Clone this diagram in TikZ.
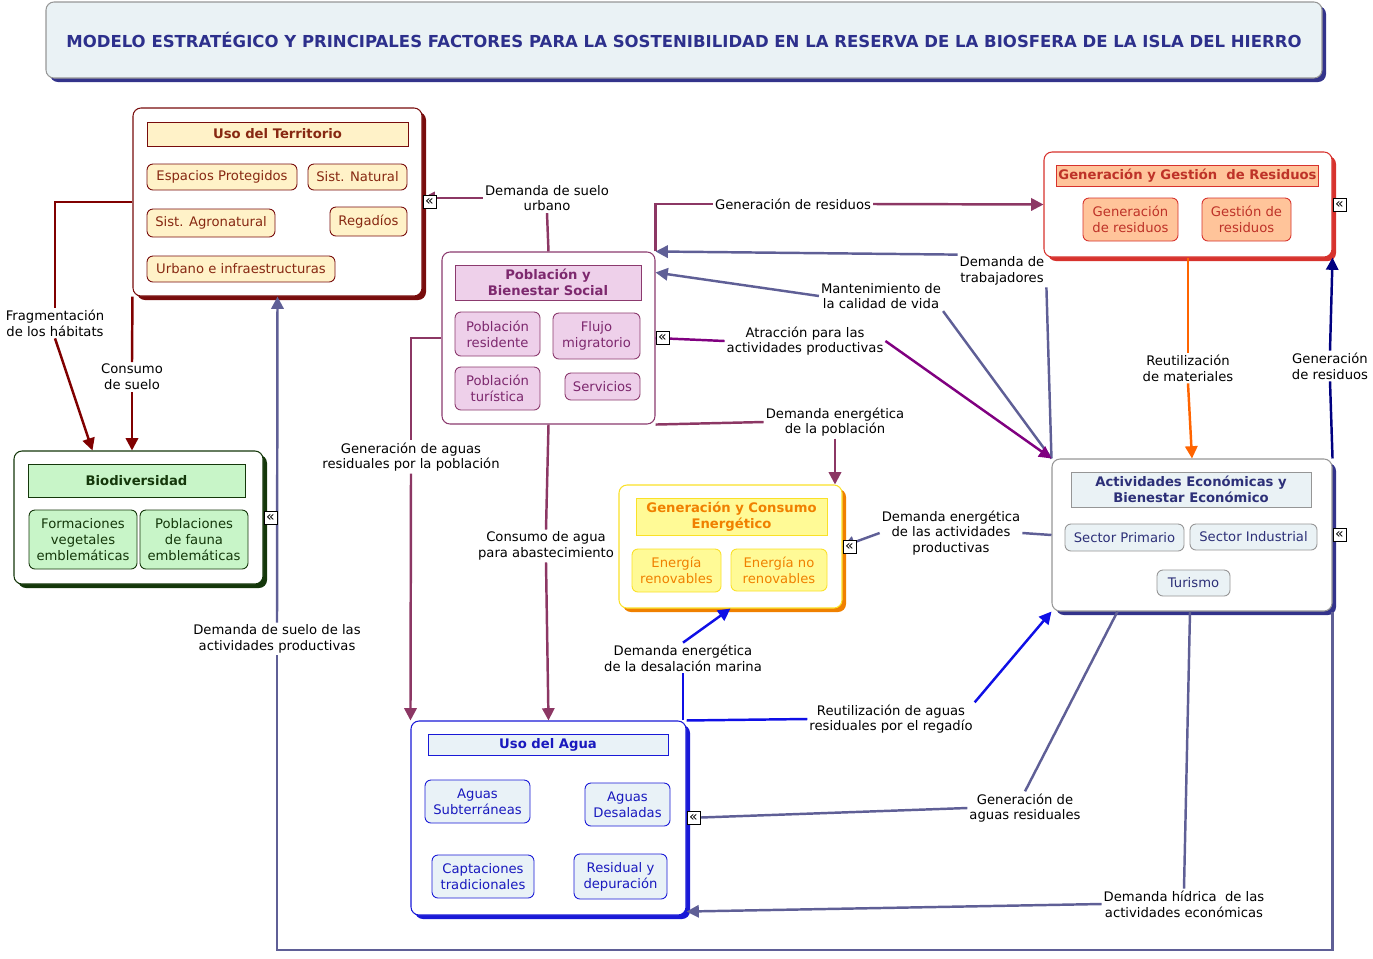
\documentclass[tikz,border=0pt]{standalone}
\usepackage{fontspec}
\setmainfont{DejaVu Sans}
\usetikzlibrary{arrows.meta, positioning, shadows}

\definecolor{azulTit}{RGB}{45,48,140}
\definecolor{fondoGris}{RGB}{234,242,245}
\definecolor{marino}{RGB}{51,51,139}
\definecolor{rojoTerr}{RGB}{120,12,12}
\definecolor{textoTerr}{RGB}{135,40,18}
\definecolor{fondoTerr}{RGB}{255,242,200}
\definecolor{lilaPob}{RGB}{139,58,110}
\definecolor{fondoPob}{RGB}{238,208,234}
\definecolor{textoPob}{RGB}{125,40,110}
\definecolor{rojoRes}{RGB}{215,50,45}
\definecolor{fondoRes}{RGB}{255,196,154}
\definecolor{textoRes}{RGB}{190,50,40}
\definecolor{verdeBio}{RGB}{20,55,10}
\definecolor{fondoBio}{RGB}{200,245,200}
\definecolor{amarilloEne}{RGB}{250,225,40}
\definecolor{fondoEne}{RGB}{255,250,150}
\definecolor{naranjaEne}{RGB}{240,128,0}
\definecolor{grisAct}{RGB}{150,150,150}
\definecolor{textoAct}{RGB}{45,48,120}
\definecolor{azulAgua}{RGB}{25,25,215}
\definecolor{fondoAgua}{RGB}{233,242,247}
\definecolor{textoAgua}{RGB}{25,25,190}
\definecolor{cPobCol}{RGB}{140,55,100}
\definecolor{cPizarra}{RGB}{95,95,150}
\definecolor{cMorado}{RGB}{128,0,128}
\definecolor{cAzul}{RGB}{15,15,230}
\definecolor{cMarino}{RGB}{0,0,128}
\definecolor{cNaranja}{RGB}{255,100,0}
\definecolor{cRojo}{RGB}{128,0,0}

\begin{document}
\begin{tikzpicture}[x=0.02cm, y=-0.02cm, >={Triangle[length=7pt,width=7pt]},
    tam/.style 2 args={minimum width=#1*0.02cm, minimum height=#2*0.02cm},
    sombra/.style={drop shadow={shadow xshift=0.08cm, shadow yshift=-0.08cm, fill=#1, opacity=1}},
    marco/.style={draw, rounded corners=0.16cm, fill=white, line width=0.6pt, inner sep=0pt},
    cabecera/.style={draw, line width=0.5pt, font=\fontsize{7.5}{9}\selectfont\bfseries, align=center, inner sep=1pt},
    concepto/.style={draw, rounded corners=0.12cm, line width=0.5pt, font=\fontsize{7.5}{9}\selectfont, align=center, inner sep=1pt},
    etiqueta/.style={font=\fontsize{7.5}{9}\selectfont, align=center, inner sep=1pt},
    enlace/.style={line width=1.4pt, draw=#1},
    icono/.style={draw, fill=white, inner sep=0pt, line width=0.5pt, font=\fontsize{8}{8}\selectfont, minimum size=0.26cm, anchor=west}]
\useasboundingbox (0,0) rectangle (1373,958);

% titulo
\node[marco, draw=grisAct, fill=fondoGris, sombra=marino, tam={1276}{76}, text=azulTit, font=\fontsize{9.4}{11}\selectfont\bfseries] (titulo) at (684,40) {MODELO ESTRATÉGICO Y PRINCIPALES FACTORES PARA LA SOSTENIBILIDAD EN LA RESERVA DE LA BIOSFERA DE LA ISLA DEL HIERRO};

% uso del territorio
\node[marco, draw=rojoTerr, sombra=rojoTerr, tam={289}{188}] (terr) at (277.5,202) {};
\node[cabecera, draw=rojoTerr, fill=fondoTerr, text=textoTerr, tam={261}{24}] (terrCab) at (277.5,134) {Uso del Territorio};
\node[concepto, draw=rojoTerr, fill=fondoTerr, text=textoTerr, tam={150}{26}] (espacios) at (222,177) {Espacios Protegidos};
\node[concepto, draw=rojoTerr, fill=fondoTerr, text=textoTerr, tam={99}{26}] (natural) at (357.5,177) {Sist. Natural};
\node[concepto, draw=rojoTerr, fill=fondoTerr, text=textoTerr, tam={128}{28}] (agronat) at (211,223) {Sist. Agronatural};
\node[concepto, draw=rojoTerr, fill=fondoTerr, text=textoTerr, tam={77}{29}] (regadios) at (368.5,221.5) {Regadíos};
\node[concepto, draw=rojoTerr, fill=fondoTerr, text=textoTerr, tam={188}{26}] (urbano) at (241,269) {Urbano e infraestructuras};

% poblacion
\node[marco, draw=lilaPob, tam={213}{172}] (pob) at (548.5,338) {};
\node[cabecera, draw=lilaPob, fill=fondoPob, text=textoPob, tam={186}{35}] (pobCab) at (548,282.5) {Población y\\Bienestar Social};
\node[concepto, draw=lilaPob, fill=fondoPob, text=textoPob, tam={85}{44}] (residente) at (497.5,334) {Población\\residente};
\node[concepto, draw=lilaPob, fill=fondoPob, text=textoPob, tam={87}{46}] (flujo) at (596.5,336) {Flujo\\migratorio};
\node[concepto, draw=lilaPob, fill=fondoPob, text=textoPob, tam={85}{43}] (turistica) at (497.5,388.5) {Población\\turística};
\node[concepto, draw=lilaPob, fill=fondoPob, text=textoPob, tam={75}{27}] (servicios) at (602.5,386.5) {Servicios};

% residuos
\node[marco, draw=rojoRes, sombra=rojoRes, tam={288}{105}] (res) at (1188,204.5) {};
\node[cabecera, draw=rojoRes, fill=fondoRes, text=textoRes, tam={259}{21}] (resCab) at (1187.5,175.5) {Generación y Gestión \ de Residuos};
\node[concepto, draw=rojoRes, fill=fondoRes, text=textoRes, tam={95}{43}] (genRes) at (1130.5,219.5) {Generación\\de residuos};
\node[concepto, draw=rojoRes, fill=fondoRes, text=textoRes, tam={89}{43}] (gestRes) at (1246.5,219.5) {Gestión de\\residuos};

% biodiversidad
\node[marco, draw=verdeBio, sombra=verdeBio, tam={249}{133}] (bio) at (138.5,517.5) {};
\node[cabecera, draw=verdeBio, fill=fondoBio, text=verdeBio, tam={217}{33}] (bioCab) at (136.5,480.5) {Biodiversidad};
\node[concepto, draw=verdeBio, fill=fondoBio, text=verdeBio, tam={108}{59}] (formaciones) at (83,539.5) {Formaciones\\vegetales\\emblemáticas};
\node[concepto, draw=verdeBio, fill=fondoBio, text=verdeBio, tam={108}{59}] (fauna) at (194,539.5) {Poblaciones\\de fauna\\emblemáticas};

% energia
\node[marco, draw=amarilloEne, sombra=naranjaEne, tam={223}{123}] (ene) at (730.5,546.5) {};
\node[cabecera, draw=amarilloEne, fill=fondoEne, text=naranjaEne, tam={191}{37}] (eneCab) at (731.5,516.5) {Generación y Consumo\\Energético};
\node[concepto, draw=amarilloEne, fill=fondoEne, text=naranjaEne, tam={89}{43}] (renov) at (676.5,570.5) {Energía\\renovables};
\node[concepto, draw=amarilloEne, fill=fondoEne, text=naranjaEne, tam={96}{42}] (noRenov) at (779,570) {Energía no\\renovables};

% actividades economicas
\node[marco, draw=grisAct, sombra=marino, tam={280}{152}] (act) at (1192,535) {};
\node[cabecera, draw=grisAct, fill=fondoGris, text=textoAct, tam={240}{35}] (actCab) at (1191,489.5) {Actividades Económicas y\\Bienestar Económico};
\node[concepto, draw=grisAct, fill=fondoGris, text=textoAct, tam={119}{27}] (primario) at (1124.5,537.5) {Sector Primario};
\node[concepto, draw=grisAct, fill=fondoGris, text=textoAct, tam={127}{26}] (industrial) at (1253.5,537) {Sector Industrial};
\node[concepto, draw=grisAct, fill=fondoGris, text=textoAct, tam={73}{26}] (turismo) at (1193.5,583) {Turismo};

% uso del agua
\node[marco, draw=azulAgua, sombra=azulAgua, tam={275}{194}] (agua) at (548.5,818) {};
\node[cabecera, draw=azulAgua, fill=fondoAgua, text=textoAgua, tam={240}{21}] (aguaCab) at (548,744.5) {Uso del Agua};
\node[concepto, draw=azulAgua, fill=fondoAgua, text=textoAgua, tam={105}{43}] (subt) at (477.5,801.5) {Aguas\\Subterráneas};
\node[concepto, draw=azulAgua, fill=fondoAgua, text=textoAgua, tam={85}{43}] (desal) at (627.5,804.5) {Aguas\\Desaladas};
\node[concepto, draw=azulAgua, fill=fondoAgua, text=textoAgua, tam={102}{43}] (capt) at (483,876.5) {Captaciones\\tradicionales};
\node[concepto, draw=azulAgua, fill=fondoAgua, text=textoAgua, tam={93}{45}] (depur) at (620.5,876.5) {Residual y\\depuración};

% etiquetas de los enlaces
\node[etiqueta] (lSueloUrb) at (547,198) {Demanda de suelo\\urbano};
\node[etiqueta] (lGenRes) at (793,204) {Generación de residuos};
\node[etiqueta] (lTrab) at (1002,271) {Demanda de\\trabajadores};
\node[etiqueta] (lMant) at (881,296) {Mantenimiento de\\la calidad de vida};
\node[etiqueta] (lAtr) at (805,341) {Atracción para las\\actividades productivas};
\node[etiqueta] (lEnPob) at (835,422) {Demanda energética\\de la población};
\node[etiqueta] (lAguasPob) at (411,457) {Generación de aguas\\residuales por la población};
\node[etiqueta] (lConsAgua) at (546,546) {Consumo de agua\\para abastecimiento};
\node[etiqueta] (lEnAct) at (951,533) {Demanda energética\\de las actividades\\productivas};
\node[etiqueta] (lDesal) at (683,658) {Demanda energética\\de la desalación marina};
\node[etiqueta] (lReut) at (891,719) {Reutilización de aguas\\residuales por el regadío};
\node[etiqueta] (lAguasRes) at (1025,808) {Generación de\\aguas residuales};
\node[etiqueta] (lHidrica) at (1184,904) {Demanda hídrica \ de las\\actividades económicas};
\node[etiqueta] (lSueloAct) at (277,639) {Demanda de suelo de las\\actividades productivas};
\node[etiqueta] (lGenRes2) at (1330,366) {Generación\\de residuos};
\node[etiqueta] (lReutMat) at (1188,368) {Reutilización\\de materiales};
\node[etiqueta] (lFrag) at (55,323) {Fragmentación\\de los hábitats};
\node[etiqueta] (lConsSuelo) at (132,377) {Consumo\\de suelo};
\coordinate (esq) at (0,950);

% enlaces
\draw[enlace=cPobCol] (pob.north) -- (lSueloUrb.south);
\draw[enlace=cPobCol, ->] (lSueloUrb.west) -- (terr.east |- lSueloUrb.west);
\draw[enlace=cPobCol] (pob.north east) |- (lGenRes.west);
\draw[enlace=cPobCol, ->] (lGenRes.east) -- (res.west);
\draw[enlace=cPizarra] (act.north west) -- (lTrab.south east);
\draw[enlace=cPizarra, ->] (lTrab.north west) -- (pob.north east);
\draw[enlace=cPizarra] (act.north west) -- (lMant.south east);
\draw[enlace=cPizarra, ->] (lMant.west) -- ([yshift=-0.42cm]pob.north east);
\draw[enlace=cMorado] (pob.east) -- (lAtr.west);
\draw[enlace=cMorado, ->] (lAtr.east) -- (act.north west);
\draw[enlace=cPobCol] (pob.south east) -- (lEnPob.west);
\draw[enlace=cPobCol, ->] (lEnPob.south) -- (lEnPob.south |- ene.north);
\draw[enlace=cPobCol] (pob.west) -| (lAguasPob.north);
\draw[enlace=cPobCol, ->] (lAguasPob.south) -- (agua.north west);
\draw[enlace=cPobCol] (pob.south) -- (lConsAgua.north);
\draw[enlace=cPobCol, ->] (lConsAgua.south) -- (agua.north);
\draw[enlace=cPizarra] (act.west) -- (lEnAct.east);
\draw[enlace=cPizarra, ->] (lEnAct.west) -- (ene.east);
\draw[enlace=cAzul] (lDesal.south |- agua.north) -- (lDesal.south);
\draw[enlace=cAzul, ->] (lDesal.north) -- (ene.south);
\draw[enlace=cAzul] (agua.north east) -- (lReut.west);
\draw[enlace=cAzul, ->] (lReut.north east) -- (act.south west);
\draw[enlace=cPizarra] ([xshift=1.32cm]act.south west) -- (lAguasRes.north);
\draw[enlace=cPizarra, ->] (lAguasRes.west) -- (agua.east);
\draw[enlace=cPizarra] ([xshift=-0.04cm]act.south) -- (lHidrica.north);
\draw[enlace=cPizarra, ->] (lHidrica.west) -- ([yshift=0.08cm]agua.south east);
\draw[enlace=cPizarra] (act.south east) -- (act.south east |- esq) -- (lSueloAct.south |- esq) -- (lSueloAct.south);
\draw[enlace=cPizarra, ->] (lSueloAct.north) -- (terr.south);
\draw[enlace=cMarino] (act.north east) -- (lGenRes2.south);
\draw[enlace=cMarino, ->] (lGenRes2.north) -- (res.south east);
\draw[enlace=cNaranja] (res.south) -- (lReutMat.north);
\draw[enlace=cNaranja, ->] (lReutMat.south) -- (act.north);
\draw[enlace=cRojo] (terr.west) -| (lFrag.north);
\draw[enlace=cRojo, ->] (lFrag.south) -- ([xshift=1.58cm]bio.north west);
\draw[enlace=cRojo] (terr.south west) -- (lConsSuelo.north);
\draw[enlace=cRojo, ->] (lConsSuelo.south) -- (lConsSuelo.south |- bio.north);

% iconos de enlace
\node[icono] (icTerr) at (terr.east) {«};
\node[icono] (icPob) at (pob.east) {«};
\node[icono] (icRes) at (res.east) {«};
\node[icono] (icBio) at (bio.east) {«};
\node[icono] (icEne) at (ene.east) {«};
\node[icono] (icAct) at (act.east) {«};
\node[icono] (icAgua) at (agua.east) {«};
\end{tikzpicture}
\end{document}
